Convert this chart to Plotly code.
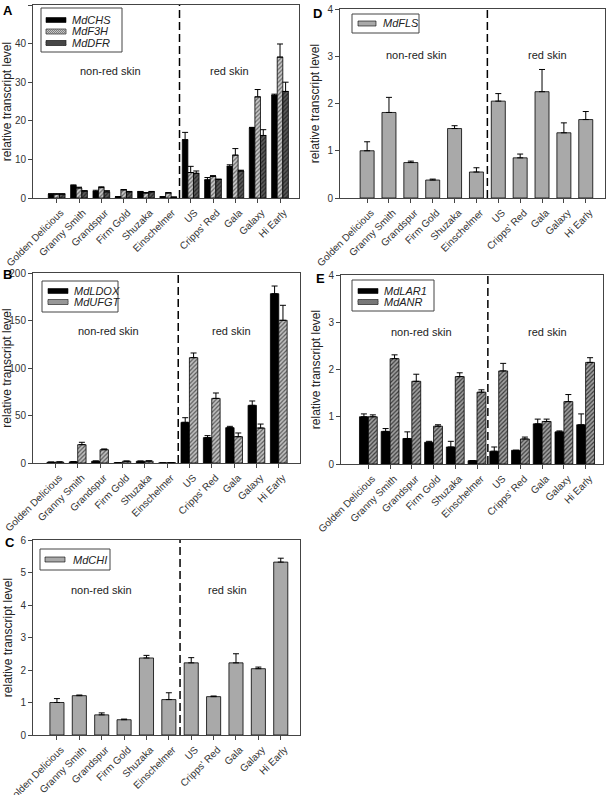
import plotly.graph_objects as go

W, H = 606, 795

cultivars = ["Golden Delicious", "Granny Smith", "Grandspur", "Firm Gold", "Shuzaka",
             "Einschelmer", "US", "Cripps' Red", "Gala", "Galaxy", "Hi Early"]

# panel A
chs = [1.0, 3.2, 1.7, 0.3, 1.6, 0.3, 15.1, 4.7, 8.2, 18.2, 26.6]
chs_err = [0.1, 0.2, 0.3, 0.05, 0.1, 0.05, 1.9, 0.6, 0.4, 0.1, 0.3]
f3h = [1.0, 2.6, 2.7, 2.1, 1.3, 1.3, 6.6, 5.6, 11.1, 26.2, 36.5]
f3h_err = [0.1, 0.2, 0.2, 0.1, 0.1, 0.1, 1.6, 0.2, 1.7, 1.9, 3.4]
dfr = [1.0, 1.8, 1.6, 1.6, 1.6, 0.2, 6.4, 4.8, 7.0, 16.2, 27.6]
dfr_err = [0.1, 0.1, 0.3, 0.1, 0.1, 0.05, 0.6, 0.1, 0.2, 1.5, 2.4]

# panel B
ldox = [0.8, 1.2, 1.8, 0.3, 1.8, 0.1, 42.8, 26.7, 37.2, 60.7, 178.2]
ldox_err = [0.2, 0.3, 0.4, 0.1, 0.3, 0.05, 4.9, 2.1, 1.4, 4.6, 8.1]
ufgt = [1.0, 19.3, 14.0, 1.8, 2.0, 0.4, 110.9, 68.0, 27.7, 36.8, 150.2]
ufgt_err = [0.2, 2.5, 0.8, 0.3, 0.3, 0.1, 4.9, 5.7, 3.9, 4.2, 15.8]

# panel C
chi = [1.0, 1.21, 0.62, 0.47, 2.37, 1.09, 2.22, 1.18, 2.22, 2.04, 5.32]
chi_err = [0.12, 0.02, 0.06, 0.02, 0.08, 0.21, 0.16, 0.02, 0.28, 0.05, 0.12]

# panel D
fls = [1.0, 1.81, 0.75, 0.38, 1.47, 0.55, 2.05, 0.85, 2.25, 1.38, 1.66]
fls_err = [0.19, 0.32, 0.03, 0.02, 0.06, 0.09, 0.16, 0.08, 0.47, 0.21, 0.17]

# panel E
lar1 = [1.0, 0.69, 0.54, 0.46, 0.36, 0.07, 0.27, 0.29, 0.85, 0.68, 0.83]
lar1_err = [0.06, 0.06, 0.14, 0.02, 0.12, 0.0, 0.09, 0.0, 0.10, 0.02, 0.23]
anr = [1.0, 2.23, 1.75, 0.80, 1.85, 1.52, 1.97, 0.53, 0.90, 1.32, 2.15]
anr_err = [0.04, 0.08, 0.15, 0.03, 0.08, 0.05, 0.16, 0.04, 0.05, 0.15, 0.10]

FONT = "Liberation Sans, Arial, sans-serif"


def px(x, y):
    return x / W, 1 - y / H


def dom(x0, x1, y0, y1):
    # pixel box -> paper domains
    return [x0 / W, x1 / W], [1 - y1 / H, 1 - y0 / H]


fig = go.Figure()

panels = {
    "A": dict(box=dom(33, 299, 5, 198), ymax=50, dtick=10, xr=[-1.06, 10.85],
              leg=dict(box=(41, 8, 122, 52), rows=[20, 31.5, 43], sw=(46, 66), tx=70),
              series=[("MdCHS", chs, chs_err, "black", None),
                      ("MdF3H", f3h, f3h_err, "#c8c8c8", "#6a6a6a"),
                      ("MdDFR", dfr, dfr_err, "#5a5a5a", "#2a2a2a")],
              width=0.25, txt=(2.39, 7.76, 33)),
    "D": dict(box=dom(340, 605, 9, 198), ymax=4, dtick=1, xr=[-1.24, 10.88],
              leg=dict(box=(352, 14, 419, 33), rows=[23.5], sw=(358, 376), tx=381),
              series=[("MdFLS", fls, fls_err, "#a9a9a9", None)],
              width=0.64, txt=(2.25, 8.26, 3.03)),
    "B": dict(box=dom(33, 300, 273, 463), ymax=200, dtick=50, xr=[-1.0, 10.95],
              leg=dict(box=(42, 281, 118, 312), rows=[291, 302], sw=(48, 68), tx=72),
              series=[("MdLDOX", ldox, ldox_err, "black", None),
                      ("MdUFGT", ufgt, ufgt_err, "#c0c0c0", "#5a5a5a")],
              width=0.375, txt=(2.39, 7.87, 139)),
    "E": dict(box=dom(341, 603, 275, 464), ymax=4, dtick=1, xr=[-1.26, 10.8],
              leg=dict(box=(352, 280, 434, 311), rows=[291, 302], sw=(358, 378), tx=382),
              series=[("MdLAR1", lar1, lar1_err, "black", None),
                      ("MdANR", anr, anr_err, "#a0a0a0", "#3c3c3c")],
              width=0.41, txt=(2.46, 8.25, 2.79)),
    "C": dict(box=dom(33, 300, 540, 735), ymax=6, dtick=1, xr=[-1.07, 10.86],
              leg=dict(box=(40, 549, 110, 570), rows=[559.5], sw=(45, 65), tx=71),
              series=[("MdCHI", chi, chi_err, "#a9a9a9", None)],
              width=0.63, txt=(2.01, 7.6, 4.46)),
}

letter_pos = {"A": (1, 1), "D": (311, 4), "B": (1, 265), "E": (314, 269), "C": (3, 533)}

for i, (name, p) in enumerate(panels.items()):
    n = i + 1
    xa = "x" if n == 1 else f"x{n}"
    ya = "y" if n == 1 else f"y{n}"
    k = len(p["series"])
    w = p["width"]
    for j, (lab, vals, err, col, hatch) in enumerate(p["series"]):
        off = -k * w / 2 + j * w
        marker = dict(color=col, line=dict(color="black", width=0.8))
        if hatch:
            marker["pattern"] = dict(shape="/", bgcolor=col, fgcolor=hatch,
                                     size=3, solidity=0.4, fillmode="replace")
        fig.add_trace(go.Bar(
            x=cultivars, y=vals, name=lab, width=w, offset=off,
            marker=marker, xaxis=xa, yaxis=ya, showlegend=False,
            error_y=dict(type="data", array=err, arrayminus=[0] * len(err),
                         symmetric=False, color="black", thickness=1, width=3),
        ))

    xd, yd = p["box"]
    axis_common = dict(showline=True, linecolor="#444", linewidth=1, mirror=True,
                       ticks="outside", tickcolor="#444", ticklen=4,
                       tickfont=dict(family=FONT, size=10, color="#333"),
                       showgrid=False, zeroline=False, automargin=False)
    fig.update_layout({
        ("xaxis" if n == 1 else f"xaxis{n}"): dict(
            domain=xd, anchor=ya, range=p["xr"], tickangle=-45,
            type="category", ticklabelshift=4, ticklabelstandoff=0, **axis_common),
        ("yaxis" if n == 1 else f"yaxis{n}"): dict(
            domain=yd, anchor=xa, range=[0, p["ymax"]], dtick=p["dtick"],
            title=dict(text="relative transcript level", standoff=5,
                       font=dict(family=FONT, size=12, color="#222")),
            **axis_common),
    })
    # dashed separator between non-red and red skin cultivars
    fig.add_shape(type="line", xref=xa, yref=ya, x0=5.5, x1=5.5, y0=0, y1=p["ymax"],
                  line=dict(color="black", width=1.5, dash="8px,4px"))
    tx_non, tx_red, ty = p["txt"]
    for tx, t in [(tx_non, "non-red skin"), (tx_red, "red skin")]:
        fig.add_annotation(x=tx, y=ty, xref=xa, yref=ya, text=t, showarrow=False,
                           font=dict(family=FONT, size=11, color="#222"))

    # legend box drawn by hand
    lg = p["leg"]
    bx0, by0, bx1, by1 = lg["box"]
    a, b = px(bx0, by0)
    c, d = px(bx1, by1)
    fig.add_shape(type="rect", xref="paper", yref="paper", x0=a, x1=c, y0=d, y1=b,
                  line=dict(color="#444", width=1), fillcolor="white", layer="above")
    for (lab, vals, err, col, hatch), ry in zip(p["series"], lg["rows"]):
        sx0, sx1 = lg["sw"]
        a, b = px(sx0, ry - 2.5)
        c, d = px(sx1, ry + 2.5)
        fig.add_shape(type="rect", xref="paper", yref="paper", x0=a, x1=c, y0=d, y1=b,
                      line=dict(color="black", width=0.6), fillcolor=col, layer="above")
        if hatch:
            segs = []
            xx = sx0 - 5
            while xx < sx1:
                x_start, y_start = xx, ry + 2.5
                x_end, y_end = xx + 5, ry - 2.5
                if x_start < sx0:
                    y_start -= sx0 - x_start
                    x_start = sx0
                if x_end > sx1:
                    y_end += x_end - sx1
                    x_end = sx1
                p0 = px(x_start, y_start)
                p1 = px(x_end, y_end)
                segs.append(f"M{p0[0]:.5f},{p0[1]:.5f} L{p1[0]:.5f},{p1[1]:.5f}")
                xx += 2
            fig.add_shape(type="path", xref="paper", yref="paper", path=" ".join(segs),
                          line=dict(color=hatch, width=0.8), layer="above")
        tx, ty2 = px(lg["tx"], ry)
        fig.add_annotation(x=tx, y=ty2, xref="paper", yref="paper", xanchor="left",
                           yanchor="middle", text=f"<i>{lab}</i>", showarrow=False,
                           font=dict(family=FONT, size=11, color="#222"))

    lx, ly = letter_pos[name]
    fig.add_annotation(x=lx / W, y=1 - ly / H, xref="paper", yref="paper",
                       xanchor="left", yanchor="top", text=f"<b>{name}</b>",
                       showarrow=False, font=dict(family=FONT, size=13, color="black"))

fig.update_layout(
    width=W, height=H, margin=dict(l=0, r=0, t=0, b=0),
    barmode="overlay", plot_bgcolor="white", paper_bgcolor="white",
    showlegend=False,
)

# page body has a default 8px margin; drop it so the figure sits at the corner
fig.write_html("out.html", config={"displayModeBar": False},
               post_script="document.body.style.margin='0';document.body.style.overflow='hidden';")
